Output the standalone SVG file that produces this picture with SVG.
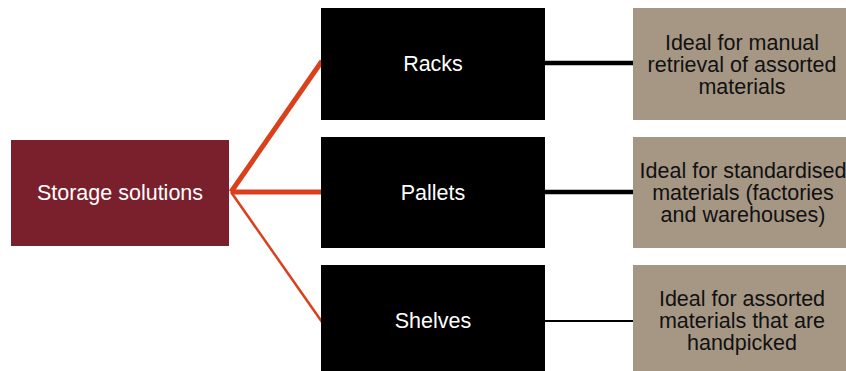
<svg xmlns="http://www.w3.org/2000/svg" width="846" height="371" viewBox="0 0 846 371">
<style>
.t{font-family:"Liberation Sans",Arial,sans-serif;font-size:21.5px;text-anchor:middle}
.w{fill:#ffffff}
.d{fill:#111111}
.blk{fill:#000000}
.tan{fill:#A69785}
.or{stroke:#D9401B;fill:none}
.bl{stroke:#000000;fill:none}
</style>
<rect width="846" height="371" fill="#ffffff"/>
<g id="connectors">
<line class="or" x1="231" y1="192" x2="322" y2="61" stroke-width="5"/>
<line class="or" x1="231" y1="192" x2="322" y2="192" stroke-width="5"/>
<line class="or" x1="231" y1="192" x2="322" y2="322" stroke-width="2.5"/>
<line class="bl" x1="544" y1="63" x2="634" y2="63" stroke-width="4.5"/>
<line class="bl" x1="544" y1="192" x2="634" y2="192" stroke-width="4.5"/>
<line class="bl" x1="544" y1="321" x2="634" y2="321" stroke-width="2"/>
</g>
<g id="storage">
<rect x="11" y="140" width="218" height="106" fill="#7A1F2C"/>
<text class="t w" x="120" y="200">Storage solutions</text>
</g>
<g id="racks">
<rect class="blk" x="321" y="8" width="224" height="112"/>
<text class="t w" x="433" y="71">Racks</text>
</g>
<g id="pallets">
<rect class="blk" x="321" y="137" width="224" height="111"/>
<text class="t w" x="433" y="200">Pallets</text>
</g>
<g id="shelves">
<rect class="blk" x="321" y="265" width="224" height="106"/>
<text class="t w" x="433" y="328">Shelves</text>
</g>
<g id="racks-desc">
<rect class="tan" x="633" y="8" width="220" height="112"/>
<text class="t d" x="742" y="50">Ideal for manual</text>
<text class="t d" x="742" y="72">retrieval of assorted</text>
<text class="t d" x="742" y="94">materials</text>
</g>
<g id="pallets-desc">
<rect class="tan" x="633" y="137" width="220" height="111"/>
<text class="t d" x="743" y="178">Ideal for standardised</text>
<text class="t d" x="743" y="200">materials (factories</text>
<text class="t d" x="743" y="222">and warehouses)</text>
</g>
<g id="shelves-desc">
<rect class="tan" x="633" y="265" width="220" height="106"/>
<text class="t d" x="742" y="306">Ideal for assorted</text>
<text class="t d" x="742" y="328">materials that are</text>
<text class="t d" x="742" y="350">handpicked</text>
</g>
</svg>
